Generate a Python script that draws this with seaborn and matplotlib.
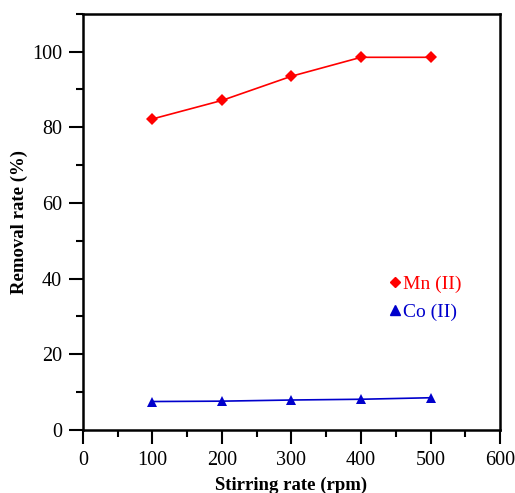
import matplotlib
matplotlib.use("Agg")
import matplotlib.pyplot as plt
import seaborn as sns
import pandas as pd
from matplotlib.ticker import MultipleLocator
from matplotlib.lines import Line2D

sns.set_style("ticks")
plt.rcParams['font.family'] = ['Liberation Serif', 'DejaVu Serif']
plt.rcParams['text.color'] = 'black'
plt.rcParams['axes.labelcolor'] = 'black'

stirring_rate = [100, 200, 300, 400, 500]
mn_removal = [82.2, 87.1, 93.5, 98.5, 98.5]
co_removal = [7.5, 7.6, 7.9, 8.1, 8.5]

df = pd.DataFrame({
    "rate": stirring_rate * 2,
    "removal": mn_removal + co_removal,
    "metal": ["Mn (II)"] * 5 + ["Co (II)"] * 5,
})

fig = plt.figure(figsize=(5.15, 4.93), dpi=100)
ax = fig.add_axes([0.161, 0.128, 0.81, 0.844])

palette = {"Mn (II)": "#ff0000", "Co (II)": "#0000cc"}
markers = {"Mn (II)": "D", "Co (II)": "^"}
sns.lineplot(data=df, x="rate", y="removal", hue="metal", style="metal",
             palette=palette, markers=markers, dashes=False, markersize=6.5,
             markeredgewidth=0, linewidth=1.2, ax=ax, legend=False)

ax.set_xlim(0, 600)
ax.set_ylim(0, 110)
ax.xaxis.set_major_locator(MultipleLocator(100))
ax.xaxis.set_minor_locator(MultipleLocator(50))
ax.yaxis.set_major_locator(MultipleLocator(20))
ax.yaxis.set_minor_locator(MultipleLocator(10))
ax.tick_params(which="major", length=10, width=1.5, labelsize=14.5, direction="out",
               colors="black", pad=5)
ax.tick_params(which="minor", length=5, width=1.5, direction="out", colors="black")
for s in ax.spines.values():
    s.set_linewidth(1.8)
    s.set_color("black")
ax.set_xlabel("Stirring rate (rpm)", fontsize=13.5, fontweight="bold", labelpad=5)
ax.set_ylabel("Removal rate (%)", fontsize=13.5, fontweight="bold", labelpad=3)

handles = [Line2D([], [], color=palette["Mn (II)"], marker="D", linestyle="none", markersize=5.5),
           Line2D([], [], color=palette["Co (II)"], marker="^", linestyle="none", markersize=7)]
leg = ax.legend(handles, ["Mn (II)", "Co (II)"], loc="upper left", bbox_to_anchor=(0.684, 0.413),
                frameon=False, fontsize=14, handletextpad=-0.1, handlelength=1.0, labelspacing=0.5)
for t, c in zip(leg.get_texts(), ["#ff0000", "#0000cc"]):
    t.set_color(c)

fig.savefig("out.png", dpi=100)
